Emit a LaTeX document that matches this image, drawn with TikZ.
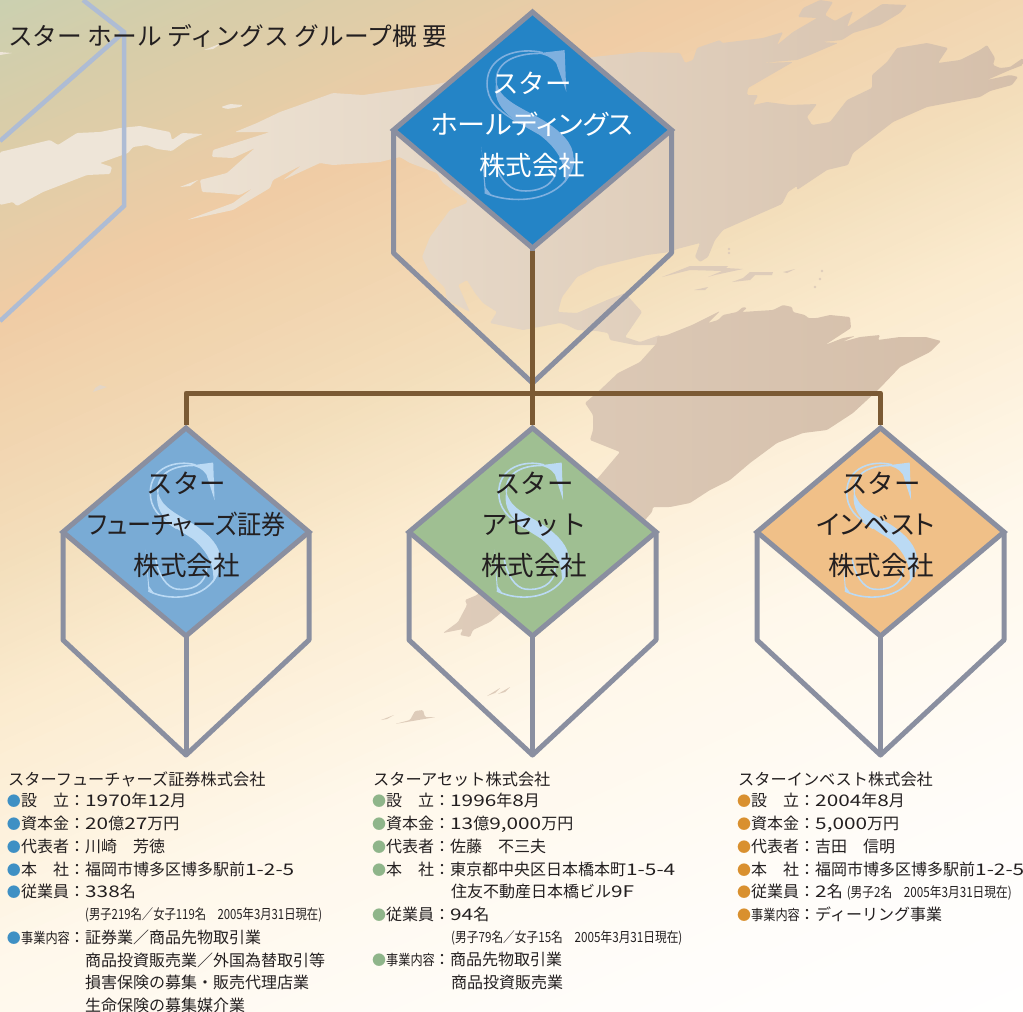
\documentclass[tikz,border=0pt]{standalone}
\usepackage{fontspec}
\usetikzlibrary{shapes.geometric,calc}
\setmainfont{Noto Sans CJK JP}[RawFeature={+palt}]
\newfontfamily\fullw{Noto Sans CJK JP}
\definecolor{framec}{HTML}{8A8FA0}
\definecolor{ghostc}{HTML}{AEBCD4}
\definecolor{brownc}{HTML}{7B5A34}
\definecolor{topblue}{HTML}{2484C6}
\definecolor{lightblue}{HTML}{79ABD5}
\definecolor{greenb}{HTML}{9FBF92}
\definecolor{orangeb}{HTML}{F0C088}
\definecolor{sdark}{HTML}{7FB0DF}
\definecolor{slight}{HTML}{BBDAF4}
\definecolor{inkc}{HTML}{231F20}
\definecolor{bulA}{HTML}{3F90C4}
\definecolor{bulB}{HTML}{8FB58A}
\definecolor{bulC}{HTML}{D9902F}
\definecolor{landA}{HTML}{EEE5D8}
\definecolor{landL}{HTML}{EDE2D3}
\definecolor{landR}{HTML}{D5BFAA}
\definecolor{landC}{HTML}{DECCBA}
\definecolor{bg0}{HTML}{CBD0B0}
\definecolor{bg1}{HTML}{D8CDA9}
\definecolor{bg2}{HTML}{F0CCA5}
\definecolor{bg3}{HTML}{F3DFBC}
\definecolor{bg4}{HTML}{FBEBCF}
\definecolor{bg5}{HTML}{FFF8EB}
\definecolor{bg6}{HTML}{FFFDFA}
\definecolor{bg7}{HTML}{FFFFFF}
\tikzset{
  frameline/.style={draw=framec,line width=5pt,line join=round},
  ghostline/.style={draw=ghostc,line width=4.5pt,line join=miter},
  connector/.style={draw=brownc,line width=5pt,line join=round},
  cubetop/.style={diamond,frameline,line join=miter,inner sep=0pt,outer sep=0pt},
  cubelabel/.style={align=center,inner sep=0pt,font=\fontsize{#1}{41pt}\selectfont},
  infotext/.style={anchor=base west,inner sep=0pt,text=inkc,font=\fullw\fontsize{16pt}{20pt}\selectfont},
  land/.style={rounded corners=1.2pt},
  sea/.style={land,shade,shading angle=0,left color=landL,right color=landR}
}
\newcommand\cubeframe[8]{%
  \node[cubetop,fill=#8,minimum width=#4*2pt,minimum height=#5*2pt] (#1) at (#2,#3) {};
  \coordinate (#1-v) at (#2,#7);
  \draw[frameline] (#1.west) -- ({#2-#4},#6) -- (#1-v) -- ({#2+#4},#6) -- (#1.east);
  \draw[frameline] (#1.south) -- (#1-v);
}
% the serif S logo drawn as a hollow letter; local units are 3 per pixel at scale 1/3
\newcommand\smark[5]{%
  \begin{scope}[shift={(#1,#2)},xscale=#3,yscale=#4,#5]
    \fill (25,-215) -- (110,-225) -- (115,-100) -- (85,-185) .. controls (70,-205) and (50,-212) .. (25,-215) -- cycle;
    \fill (-95,-130) .. controls (-85,-75) and (-25,-55) .. (45,-15) .. controls (100,20) and (137,55) .. (137,100) .. controls (137,125) and (125,155) .. (110,175) .. controls (115,125) and (95,75) .. (35,30) .. controls (-25,-5) and (-115,-45) .. (-95,-130) -- cycle;
    \draw[line width=1.6pt,fill=none] (45,-217) .. controls (-25,-235) and (-123,-210) .. (-123,-125) .. controls (-123,-75) and (-95,-45) .. (-25,-5);
    \draw[line width=1.6pt,fill=none] (35,-215) .. controls (-45,-215) and (-100,-185) .. (-95,-125);
    \draw[line width=1.6pt,fill=none] (85,125) .. controls (85,185) and (25,203) .. (-25,197) .. controls (-60,193) and (-95,150) .. (-103,95);
    \draw[line width=1.6pt,fill=none] (-130,203) .. controls (-85,225) and (-15,230) .. (35,215) .. controls (105,195) and (137,145) .. (137,100);
    \fill (-140,65) -- (-130,203) -- (-110,210) -- (-127,188) -- cycle;
  \end{scope}
}
\newcommand\dg[1]{\scalebox{1.3}[1]{#1}}
\newcommand\inforow[6]{%
  \node[infotext] (#1) at (#2,#3) {\makebox[13pt][l]{\hspace{-1.2pt}\textcolor{#4}{\fontsize{14pt}{14pt}\selectfont ●}}\makebox[48pt][l]{#5}\makebox[16pt][c]{：}#6};
}
\newcommand\infoline[4]{\node[infotext] (#1) at (#2,#3) {#4};}
\newcommand\smallnote[2][.81]{{\rmfamily\fontsize{14pt}{14pt}\selectfont\scalebox{#1}[1]{#2}}}
\newcommand\narrowlabel{{\fontsize{14.5pt}{15pt}\selectfont\scalebox{.84}[1]{事業内容}}}
\begin{document}
\begin{tikzpicture}[x=1pt,y=-1pt]
\useasboundingbox (0,0) rectangle (1023,1012);
\begin{scope}
\clip (0,0) rectangle (1023,1012);
% background gradient
\foreach \ta/\tb/\ca/\cb in {0/102/bg0/bg1,102/284/bg1/bg2,284/514/bg2/bg3,514/640/bg3/bg4,640/870/bg4/bg5,870/1150/bg5/bg6,1150/1345/bg6/bg7}{
  \foreach \p in {0,5,...,95}{
    \pgfmathsetmacro\tv{\ta+(\tb-\ta)*(\p/100)}
    \colorlet{bandc}{\cb!\p!\ca}
    \fill[bandc] (-500,{(\tv+205)/0.91}) -- (1600,{(\tv-656)/0.91}) -- (1600,2000) -- (-500,2000) -- cycle;
  }
}
% map: far-left land
\fill[landA,land] (0,152) -- (50,140) -- (58,145) -- (77,133) -- (100,132) -- (120,128) -- (140,126) -- (170,132) -- (172,140) -- (182,133) -- (203,134) -- (187,140) -- (172,151) -- (157,149) -- (147,145) -- (133,147) -- (128,153) -- (100,163) -- (112,167) -- (110,174) -- (87,175) -- (43,192) -- (17,206) -- (13,202) -- (0,205) -- cycle;
\fill[landA] (0,52) -- (12,53) -- (0,55) -- cycle;
\fill[landA] (204,50) -- (222,43) -- (213,49) -- cycle;
\fill[landA,land] (221,107) -- (230,104) -- (243,105) -- (240,107) -- (227,109) -- cycle;
\fill[landA] (180,187) -- (198,180) -- (190,186) -- cycle;
\fill[landC!60!landA] (93,392) -- (107,387) -- (100,385) -- (95,388) -- cycle;
% map: northern continent
\path[sea] (235,132) -- (257,123) -- (280,112) -- (297,106) -- (333,93) -- (363,95) -- (433,85) -- (500,70) -- (593,57) -- (640,52) -- (680,53) -- (685,63) -- (693,60) -- (697,48) -- (720,40) -- (722,43) -- (763,38) -- (783,32) -- (777,45) -- (793,32) -- (817,18) -- (798,17) -- (803,8) -- (820,0) -- (833,2) -- (825,15) -- (835,21) -- (853,11) -- (847,27) -- (873,10) -- (882,4) -- (907,5) -- (900,13) -- (880,25) -- (853,33) -- (842,40) -- (822,42) -- (838,43) -- (810,55) -- (797,60) -- (760,63) -- (793,62) -- (748,88) -- (747,95) -- (758,95) -- (753,105) -- (767,102) -- (790,105) -- (817,104) -- (807,117) -- (812,125) -- (830,122) -- (847,100) -- (872,88) -- (872,75) -- (887,62) -- (897,48) -- (927,43) -- (948,48) -- (938,63) -- (960,60) -- (980,50) -- (987,45) -- (995,58) -- (993,65) -- (1000,68) -- (1010,67) -- (1023,58) -- (1023,65) -- (1010,70) -- (987,80) -- (1010,75) -- (1018,77) -- (1012,85) -- (990,91) -- (980,97) -- (927,107) -- (893,122) -- (853,153) -- (848,165) -- (827,170) -- (797,190) -- (797,186) -- (788,192) -- (782,204) -- (723,230) -- (715,240) -- (708,257) -- (700,262) -- (695,257) -- (700,243) -- (677,249) -- (670,252) -- (647,255) -- (597,267) -- (577,277) -- (562,297) -- (558,312) -- (577,313) -- (607,300) -- (625,293) -- (642,312) -- (625,337) -- (640,342) -- (660,335) -- (660,345) -- (635,345) -- (610,340) -- (608,333) -- (597,331) -- (577,330) -- (567,325) -- (560,323) -- (523,330) -- (490,323) -- (497,312) -- (483,303) -- (475,293) -- (467,280) -- (458,285) -- (470,312) -- (447,300) -- (445,288) -- (430,273) -- (422,257) -- (430,237) -- (450,210) -- (467,203) -- (467,200) -- (443,183) -- (437,173) -- (410,163) -- (400,157) -- (380,162) -- (333,165) -- (320,163) -- (283,180) -- (302,165) -- (273,180) -- (270,188) -- (233,210) -- (187,220) -- (233,203) -- (253,188) -- (240,195) -- (220,193) -- (202,192) -- (200,180) -- (227,173) -- (255,148) -- (233,158) -- (212,157) -- (213,150) -- (270,132) -- cycle;
% map: southern continent
\path[land,shade,shading angle=0,left color=landC,right color=landR] (657,337) -- (667,335) -- (692,325) -- (720,311) -- (708,323) -- (718,320) -- (723,315) -- (737,312) -- (743,307) -- (747,308) -- (742,312) -- (773,310) -- (783,305) -- (792,307) -- (793,312) -- (805,315) -- (808,318) -- (817,318) -- (830,315) -- (850,317) -- (851,328) -- (825,345) -- (843,338) -- (855,336) -- (842,342) -- (860,337) -- (880,335) -- (878,340) -- (900,337) -- (926,337) -- (941,341) -- (930,352) -- (900,367) -- (879,389) -- (853,413) -- (827,430) -- (803,433) -- (777,443) -- (750,463) -- (730,480) -- (710,490) -- (690,503) -- (670,507) -- (653,507) -- (652,512) -- (645,520) -- (630,540) -- (600,560) -- (510,595) -- (502,612) -- (490,622) -- (473,630) -- (470,637) -- (460,635) -- (463,629) -- (443,633) -- (458,622) -- (467,605) -- (465,600) -- (477,595) -- (510,560) -- (598,478) -- (620,452) -- (590,440) -- (593,430) -- (593,415) -- (585,403) -- (600,390) -- (618,373) -- (640,362) -- (657,343) -- cycle;
% map: islands
\fill[landC] (662,277) -- (690,266) -- (728,266) -- (726,268) -- (743,269) -- (715,275) -- (708,277) -- (722,271) -- (690,270) -- cycle;
\fill[landC] (732,282) -- (743,278) -- (750,272) -- (773,272) -- (772,275) -- (755,275) -- (750,280) -- cycle;
\fill[landC] (783,272) -- (795,269) -- (787,273) -- cycle;
\fill[landC] (694,290) -- (708,287) -- (705,290) -- cycle;
\foreach \ix/\iy in {729/249,729/253,822/271,820/279,815/287}{\fill[landC] (\ix,\iy) circle (1.3pt);}
\fill[landC] (487,696) -- (500,688) -- (495,693) -- cycle;
\fill[landC] (498,694) -- (510,687) -- (505,692) -- cycle;
\fill[landC,land] (395,724) -- (410,720) -- (415,711) -- (423,710) -- (425,717) -- (436,717) -- cycle;
\fill[landC] (381,720) -- (394,715) -- (387,719) -- cycle;
% ghost cube at the corner
\draw[ghostline] (83,0) -- (124,32) -- (124,206) -- (0,321);
\draw[ghostline] (124,32) -- (0,141);
\end{scope}
% title
\node[anchor=west,inner sep=0pt,text=inkc,font=\fullw\fontsize{24.7pt}{28pt}\selectfont] (title) at (8,36) {スター ホール ディングス グループ概 要};
% cubes
\cubeframe{top}{532.5}{130}{139}{118}{253}{383}{topblue}
\cubeframe{left}{186}{532}{123}{104}{640}{755}{lightblue}
\cubeframe{mid}{532.5}{532}{123.5}{104}{640}{755}{greenb}
\cubeframe{right}{880.5}{532}{123.5}{104}{640}{755}{orangeb}
% S logos
\smark{528}{125}{.333}{.333}{sdark,draw=sdark}
\smark{183.5}{530}{.27}{.30}{slight,draw=slight}
\smark{532}{530}{.27}{.30}{slight,draw=slight}
\smark{880}{530}{.27}{.30}{slight,draw=slight}
% cube labels
\node[cubelabel=26.5pt,text=white] (top-l) at (532,125) {{\fullw スター}\\\scalebox{1.06}[1]{ホールディングス}\\株式会社};
\node[cubelabel=26.5pt,text=inkc] (left-l) at (186.5,525) {{\fullw スター}\\\scalebox{.91}[1]{フューチャーズ証券}\\株式会社};
\node[cubelabel=26.5pt,text=inkc] (mid-l) at (534,525) {{\fullw スター}\\{\fullw アセット}\\株式会社};
\node[cubelabel=26.5pt,text=inkc] (right-l) at (881,525) {{\fullw スター}\\インベスト\kern10pt\\株式会社};
% connectors
\coordinate (hub) at (532.5,393);
\draw[connector,shorten <=3pt,shorten >=3pt] (top.south) -- (mid.north);
\draw[connector,shorten <=3pt,shorten >=3pt] (left.north) -- (left.north |- hub) -- (right.north |- hub) -- (right.north);
% column A
\infoline{a0}{8}{785}{\fontsize{16.2pt}{20pt}\selectfont スターフューチャーズ証券株式会社}
\inforow{a1}{8}{806}{bulA}{設　立}{\dg{1970}年\dg{12}月}
\inforow{a2}{8}{829}{bulA}{資本金}{\dg{20}億\dg{27}万円}
\inforow{a3}{8}{852}{bulA}{代表者}{川崎　芳徳}
\inforow{a4}{8}{875}{bulA}{本　社}{福岡市博多区博多駅前\dg{1-2-5}}
\inforow{a5}{8}{897}{bulA}{従業員}{\dg{338}名}
\infoline{a6}{85}{919}{\smallnote{(男子219名／女子119名　2005年3月31日現在)}}
\inforow{a7}{8}{943}{bulA}{\narrowlabel}{証券業／商品先物取引業}
\infoline{a8}{85}{966}{商品投資販売業／外国為替取引等}
\infoline{a9}{85}{988}{損害保険の募集・販売代理店業}
\infoline{a10}{85}{1011}{生命保険の募集媒介業}
% column B
\infoline{b0}{373}{785}{\fontsize{16.2pt}{20pt}\selectfont スターアセット株式会社}
\inforow{b1}{373}{806}{bulB}{設　立}{\dg{1996}年\dg{8}月}
\inforow{b2}{373}{829}{bulB}{資本金}{\dg{13}億\dg{9,000}万円}
\inforow{b3}{373}{852}{bulB}{代表者}{佐藤　不三夫}
\inforow{b4}{373}{875}{bulB}{本　社}{東京都中央区日本橋本町\dg{1-5-4}}
\infoline{b5}{451}{897}{住友不動産日本橋ビル\dg{9F}}
\inforow{b6}{373}{920}{bulB}{従業員}{\dg{94}名}
\infoline{b7}{451}{942}{\smallnote[.835]{(男子79名／女子15名　2005年3月31日現在)}}
\inforow{b8}{373}{965}{bulB}{\narrowlabel}{商品先物取引業}
\infoline{b9}{451}{988}{商品投資販売業}
% column C
\infoline{c0}{738}{785}{\fontsize{16.2pt}{20pt}\selectfont スターインベスト株式会社}
\inforow{c1}{738}{806}{bulC}{設　立}{\dg{2004}年\dg{8}月}
\inforow{c2}{738}{829}{bulC}{資本金}{\dg{5,000}万円}
\inforow{c3}{738}{852}{bulC}{代表者}{吉田　信明}
\inforow{c4}{738}{875}{bulC}{本　社}{福岡市博多区博多駅前\dg{1-2-5}}
\inforow{c5}{738}{897}{bulC}{従業員}{\dg{2}名\hspace{4pt}\smallnote[.835]{(男子2名　2005年3月31日現在)}}
\inforow{c6}{738}{920}{bulC}{\narrowlabel}{ディーリング事業}
\end{tikzpicture}
\end{document}
